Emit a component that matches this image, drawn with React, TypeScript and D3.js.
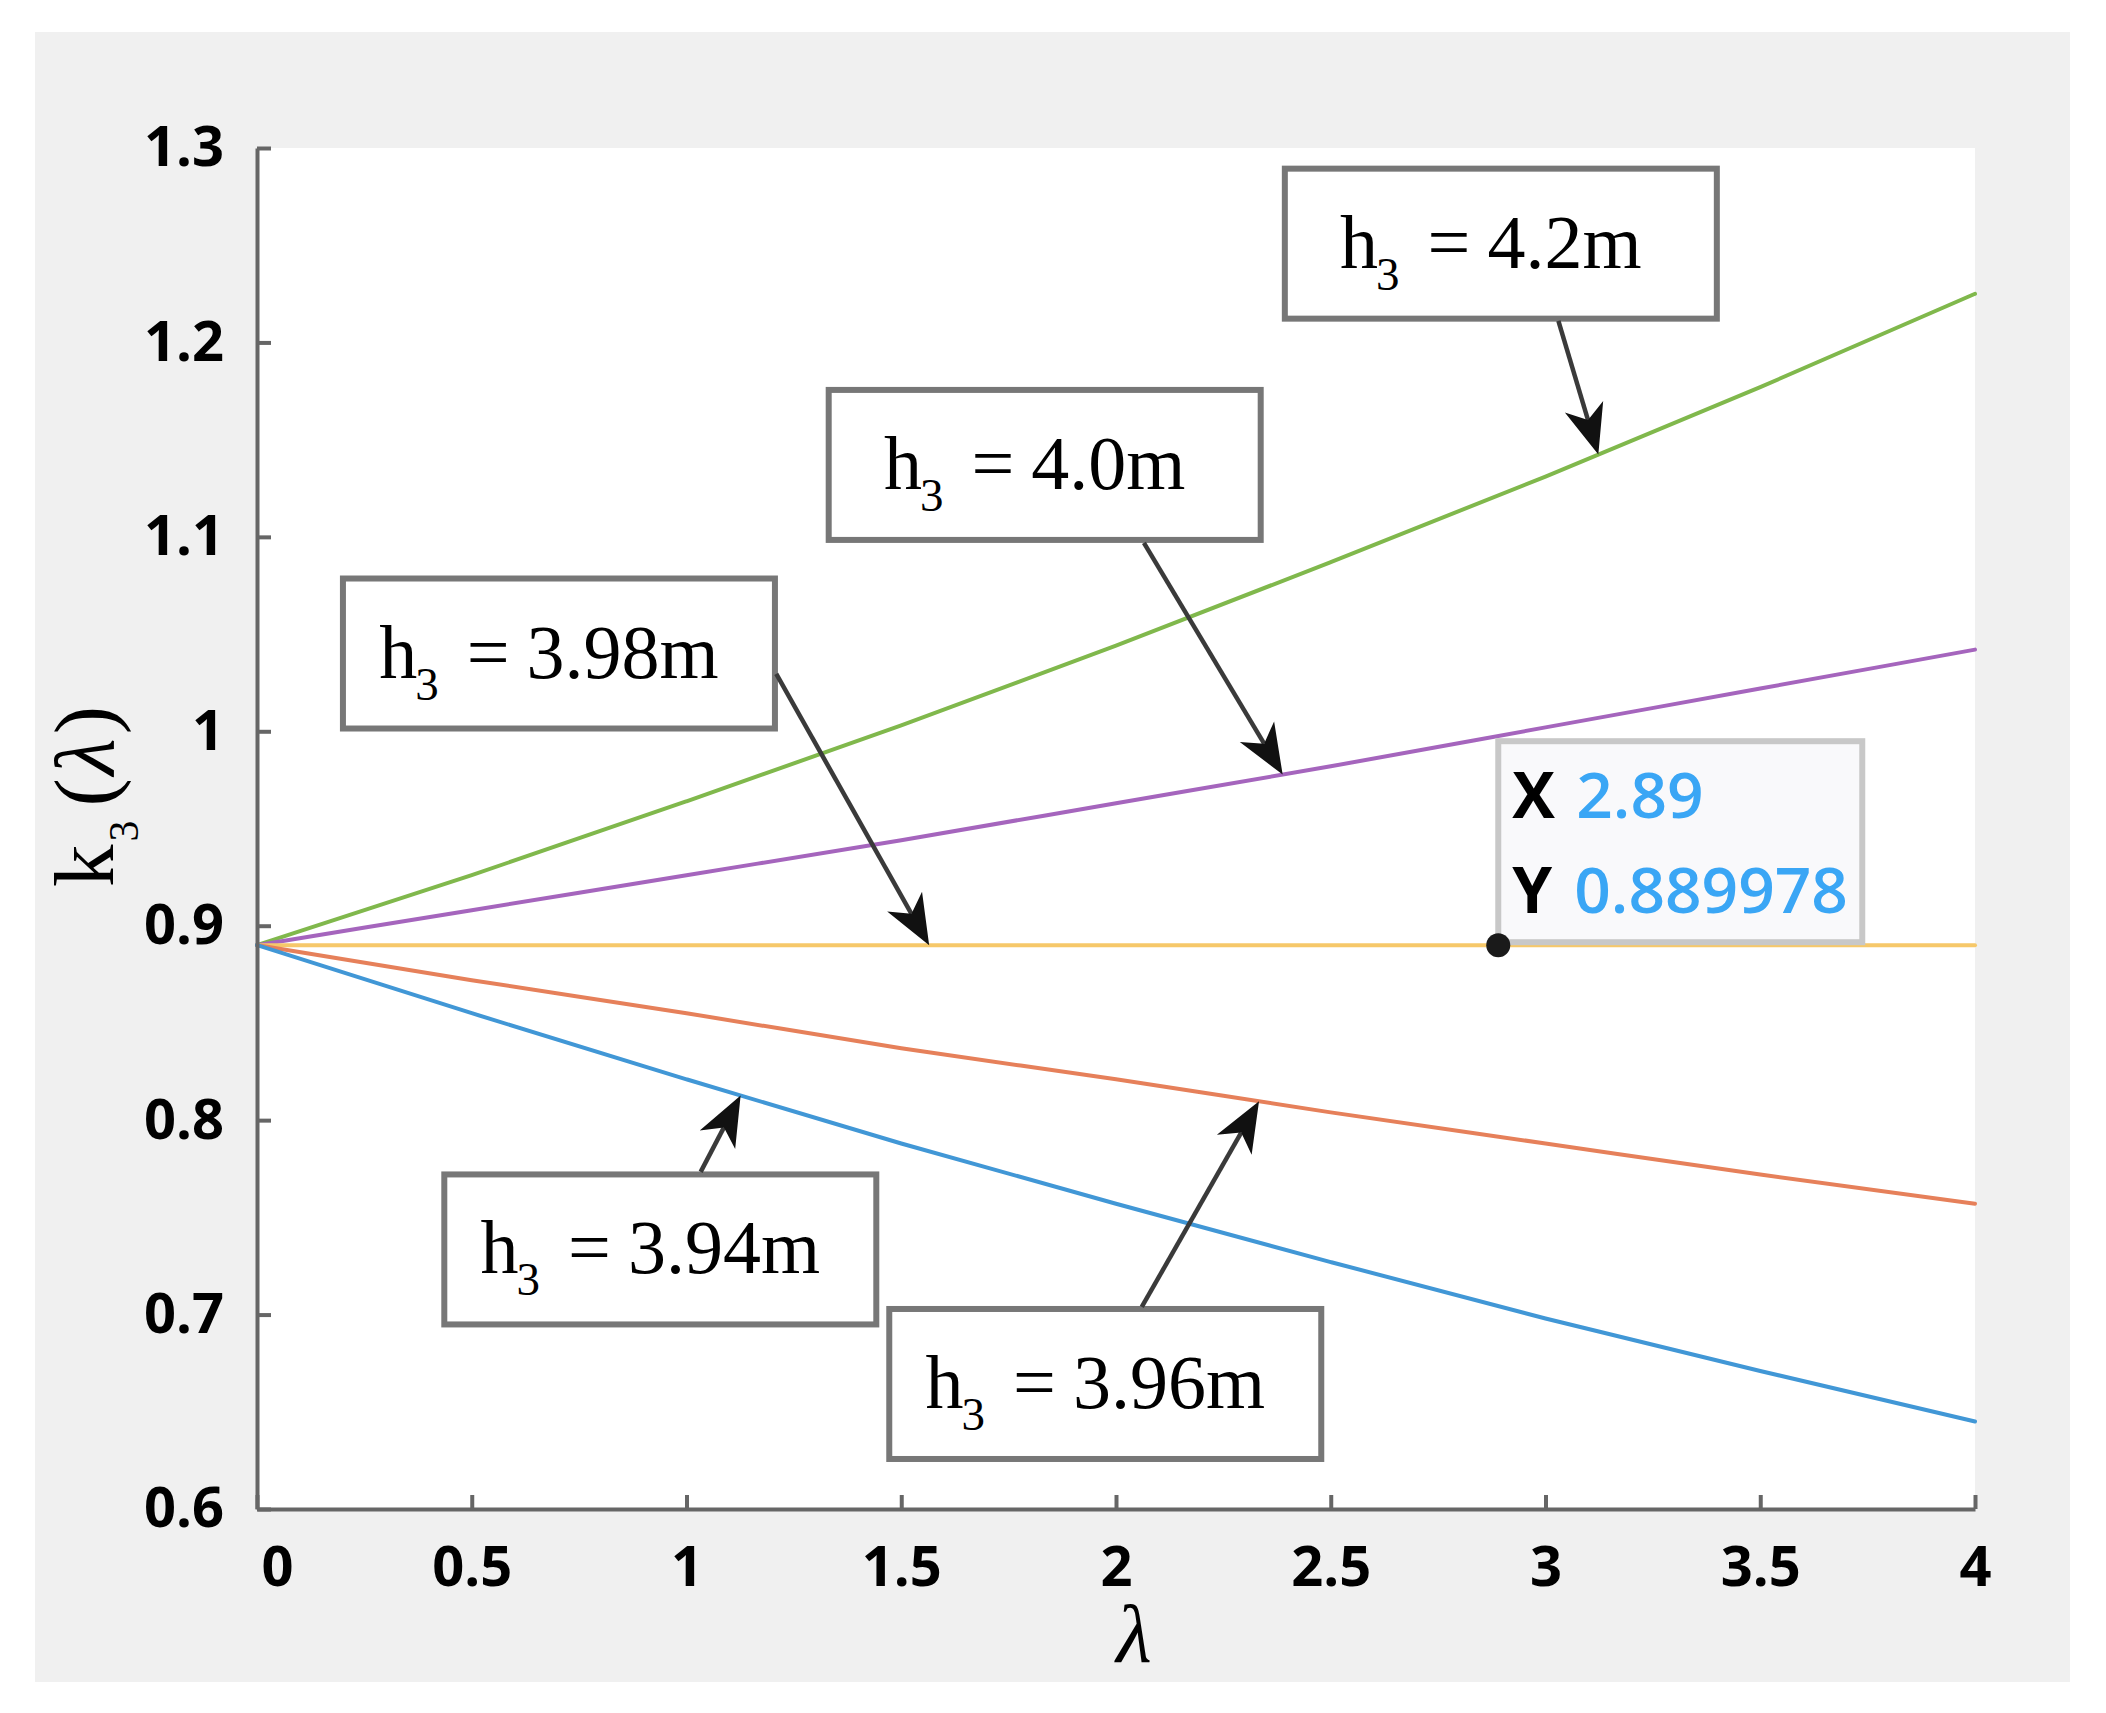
import * as d3 from 'd3'
import { useEffect, useRef } from 'react'

// λ sample points and the k3(λ) values
const lambdaValues = [0, 0.5, 1, 1.5, 2, 2.5, 3, 3.5, 4]
const k3H420 = [0.89, 0.926, 0.964, 1.003, 1.044, 1.087, 1.131, 1.177, 1.225]
const k3H400 = [0.89, 0.908, 0.926, 0.944, 0.963, 0.982, 1.002, 1.022, 1.042]
const k3H398 = [0.89, 0.89, 0.89, 0.89, 0.89, 0.89, 0.89, 0.89, 0.89]
const k3H396 = [0.89, 0.872, 0.855, 0.837, 0.821, 0.804, 0.788, 0.772, 0.757]
const k3H394 = [0.89, 0.855, 0.821, 0.788, 0.757, 0.727, 0.698, 0.671, 0.645]

const xTicks = [0, 0.5, 1, 1.5, 2, 2.5, 3, 3.5, 4]
const yTicks = [0.6, 0.7, 0.8, 0.9, 1, 1.1, 1.2, 1.3]

const h3Labels = ['4.2', '4.0', '3.98', '3.94', '3.96']

// data tip
const tipX = 2.89
const tipY = 0.889978

const colors = ['#80b84c', '#a565bd', '#f6c86a', '#e6805a', '#4197d6']

const series = [
  { h: '4.2', values: k3H420, color: colors[0] },
  { h: '4.0', values: k3H400, color: colors[1] },
  { h: '3.98', values: k3H398, color: colors[2] },
  { h: '3.96', values: k3H396, color: colors[3] },
  { h: '3.94', values: k3H394, color: colors[4] },
]

// annotation boxes and arrows, in data units (box centre, arrow start, arrow tip λ)
const annotationLayout: Record<string, { box: [number, number], from: [number, number], tipL: number }> = {
  '4.2': { box: [2.896, 1.2508], from: [3.03, 1.2111], tipL: 3.123 },
  '4.0': { box: [1.834, 1.137], from: [2.065, 1.0969], tipL: 2.388 },
  '3.98': { box: [0.703, 1.040], from: [1.209, 1.0295], tipL: 1.565 },
  '3.94': { box: [0.939, 0.7335], from: [1.033, 0.7734], tipL: 1.126 },
  '3.96': { box: [1.975, 0.6643], from: [2.060, 0.7039], tipL: 2.333 },
}

const W = 2106
const H = 1713
const sansFont = "'Open Sans', 'Noto Sans', sans-serif"
const serifFont = "'Liberation Serif', 'Times New Roman', serif"

export default function App(){
  const svgRef = useRef<SVGSVGElement|null>(null)

  useEffect(()=>{
    document.body.style.margin = '0'
    const svg = d3.select(svgRef.current)
    svg.selectAll('*').remove()

    const x = d3.scaleLinear().domain([0, 4]).range([257, 1975])
    const y = d3.scaleLinear().domain([0.6, 1.3]).range([1509, 148])

    // figure background + plot area
    svg.append('rect').attr('x', 35).attr('y', 32).attr('width', 2035).attr('height', 1650).attr('fill', '#f0f0f0')
    svg.append('rect')
      .attr('x', x(0)).attr('y', y(1.3))
      .attr('width', x(4) - x(0)).attr('height', y(0.6) - y(1.3))
      .attr('fill', '#ffffff')

    // curves
    const line = d3.line<number>()
      .x((_, i)=> x(lambdaValues[i]))
      .y(d=> y(d))
      .curve(d3.curveMonotoneX)

    svg.append('g').selectAll('path.curve')
      .data(series)
      .join('path')
      .attr('d', d=> line(d.values))
      .attr('fill', 'none')
      .attr('stroke', d=> d.color)
      .attr('stroke-width', 4)
      .attr('stroke-linecap', 'round')

    // axes
    const gx = svg.append('g')
      .attr('transform', `translate(0,${y(0.6)})`)
      .call(d3.axisBottom(x).tickValues(xTicks).tickSizeInner(-14).tickSizeOuter(0).tickPadding(37).tickFormat(d=> String(d)))
    const gy = svg.append('g')
      .attr('transform', `translate(${x(0)},0)`)
      .call(d3.axisLeft(y).tickValues(yTicks).tickSizeInner(-14).tickSizeOuter(0).tickPadding(33).tickFormat(d=> String(d)))

    for(const g of [gx, gy]){
      g.select('.domain').attr('stroke', '#666').attr('stroke-width', 4)
      g.selectAll('.tick line').attr('stroke', '#666').attr('stroke-width', 4)
      g.selectAll('.tick text')
        .attr('fill', '#000')
        .attr('font-family', sansFont)
        .attr('font-weight', 700)
        .attr('font-size', 56)
    }
    gx.selectAll('.tick text').filter((d: any)=> d === 0).attr('dx', 20)

    // axis titles
    const yl = svg.append('text')
      .attr('transform', `translate(113,887) rotate(-90)`)
      .attr('font-family', serifFont)
      .attr('font-size', 85)
      .attr('fill', '#000')
    yl.append('tspan').text('k')
    yl.append('tspan').attr('font-size', 42).attr('dx', 3).attr('dy', 25).text('3')
    yl.append('tspan').attr('dx', 14).attr('dy', -25).text('(')
    yl.append('tspan').attr('dx', 3).attr('font-style', 'italic').text('λ')
    yl.append('tspan').attr('dx', 4).text(')')

    svg.append('text')
      .attr('x', 1134).attr('y', 1662)
      .attr('text-anchor', 'middle')
      .attr('font-family', serifFont)
      .attr('font-style', 'italic')
      .attr('font-size', 82)
      .attr('fill', '#000')
      .text('λ')

    // annotation boxes
    const boxW = 432
    const boxH = 150
    const seriesByH = new Map(series.map(s=> [s.h, s]))
    const annG = svg.append('g')
    for(const h of h3Labels){
      const lay = annotationLayout[h]
      const cx = x(lay.box[0])
      const cy = y(lay.box[1])
      annG.append('rect')
        .attr('x', cx - boxW/2).attr('y', cy - boxH/2)
        .attr('width', boxW).attr('height', boxH)
        .attr('fill', '#fff')
        .attr('stroke', '#777')
        .attr('stroke-width', 6)
      const t = annG.append('text')
        .attr('x', cx - 10).attr('y', cy + 24)
        .attr('text-anchor', 'middle')
        .attr('font-family', serifFont)
        .attr('font-size', 76)
        .attr('fill', '#000')
      t.append('tspan').text('h')
      t.append('tspan').attr('font-size', 47).attr('dy', 22).attr('dx', -2).text('3')
      t.append('tspan').attr('dy', -22).attr('dx', 28).text('=')
      t.append('tspan').attr('dx', 17).text(`${h}m`)
    }

    // arrows
    const arrowG = svg.append('g')
    const headL = 50
    const headW = 40
    for(const h of h3Labels){
      const lay = annotationLayout[h]
      const s = seriesByH.get(h)!
      const interp = d3.scaleLinear().domain(lambdaValues).range(s.values)
      const sx = x(lay.from[0])
      const sy = y(lay.from[1])
      const tx = x(lay.tipL)
      const ty = y(interp(lay.tipL))
      const ang = Math.atan2(ty - sy, tx - sx)
      const c = Math.cos(ang)
      const sn = Math.sin(ang)
      const pt = (u: number, v: number)=> [tx + u*c - v*sn, ty + u*sn + v*c]
      const back = pt(-headL*0.72, 0)
      arrowG.append('line')
        .attr('x1', sx).attr('y1', sy)
        .attr('x2', back[0]).attr('y2', back[1])
        .attr('stroke', '#3a3a3a')
        .attr('stroke-width', 4.5)
      const pts = [pt(0, 0), pt(-headL, -headW/2), pt(-headL*0.72, 0), pt(-headL, headW/2)]
      arrowG.append('path')
        .attr('d', 'M' + pts.map(p=> `${p[0]},${p[1]}`).join('L') + 'Z')
        .attr('fill', '#111')
    }

    // data tip
    const mx = x(tipX)
    const my = y(tipY)
    const tipG = svg.append('g')
    tipG.append('rect')
      .attr('x', mx).attr('y', my - 204)
      .attr('width', 364).attr('height', 201)
      .attr('fill', '#f9f9fb')
      .attr('stroke', '#c8c8c8')
      .attr('stroke-width', 6)
    tipG.append('text').attr('x', mx + 14).attr('y', my - 127)
      .attr('font-family', sansFont).attr('font-weight', 700).attr('font-size', 64).attr('fill', '#000').text('X')
    tipG.append('text').attr('x', mx + 78).attr('y', my - 127)
      .attr('font-family', sansFont).attr('font-weight', 600).attr('font-size', 64).attr('fill', '#3aa6f5').text(String(tipX))
    tipG.append('text').attr('x', mx + 14).attr('y', my - 32)
      .attr('font-family', sansFont).attr('font-weight', 700).attr('font-size', 64).attr('fill', '#000').text('Y')
    tipG.append('text').attr('x', mx + 76).attr('y', my - 32)
      .attr('font-family', sansFont).attr('font-weight', 600).attr('font-size', 64).attr('fill', '#3aa6f5').text(String(tipY))
    tipG.append('circle').attr('cx', mx).attr('cy', my).attr('r', 12).attr('fill', '#1a1a1a')
  }, [])

  return <svg ref={svgRef} width={W} height={H} style={{ display: 'block', background: '#fff' }} />
}
